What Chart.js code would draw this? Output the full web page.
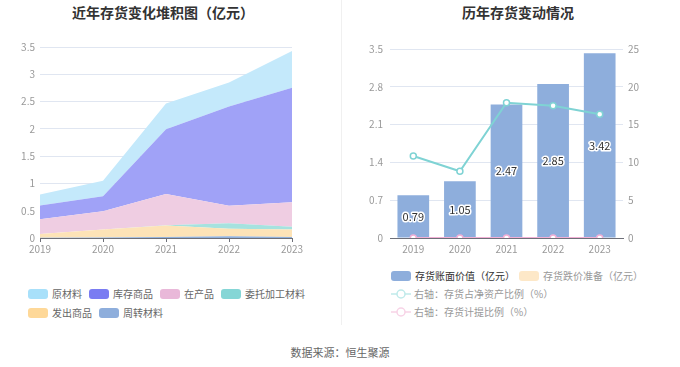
<!DOCTYPE html>
<html>
<head>
<meta charset="utf-8">
<script src="https://cdn.jsdelivr.net/npm/chart.js@4.4.0/dist/chart.umd.min.js"></script>
<style>
  html,body{margin:0;padding:0;background:#fff;width:680px;height:367px;overflow:hidden;font-family:"Noto Sans CJK SC","Noto Sans",sans-serif;}
  .title{position:absolute;top:2px;font-size:14px;font-weight:bold;color:#333;white-space:nowrap;transform:translateX(-50%);line-height:20px;}
  .box{position:absolute;}
  .divider{position:absolute;left:341px;top:0;width:1px;height:325px;background:#f0f0f0;}
  .lg{position:absolute;font-size:10px;line-height:12px;white-space:nowrap;}
  .lg .sw{position:absolute;left:0;top:1px;width:20px;height:10px;border-radius:3px;}
  .lg span.t{position:absolute;top:0;}
  .foot{position:absolute;left:340px;top:344px;transform:translateX(-50%);font-size:11px;color:#666;white-space:nowrap;}
</style>
</head>
<body>
<div class="title" style="left:163px">近年存货变化堆积图（亿元）</div>
<div class="title" style="left:518px">历年存货变动情况</div>
<div class="divider"></div>
<div class="box" style="left:0;top:36px;width:340px;height:224px"><canvas id="c1"></canvas></div>
<div class="box" style="left:341px;top:36px;width:339px;height:224px"><canvas id="c2"></canvas></div>
<div id="legend1"></div>
<div id="legend2"></div>
<div class="foot">数据来源：恒生聚源</div>
<script>
// ---- data ----
const years = ['2019','2020','2021','2022','2023'];
const rawMaterials = [0.20, 0.285, 0.47, 0.44, 0.67];      // 原材料
const finishedGoods = [0.25, 0.275, 1.19, 1.82, 2.10];     // 库存商品
const wip = [0.27, 0.335, 0.57, 0.32, 0.45];               // 在产品
const consigned = [0, 0, 0.005, 0.10, 0.05];               // 委托加工材料
const shipped = [0.07, 0.145, 0.21, 0.14, 0.135];          // 发出商品
const turnover = [0.005, 0.01, 0.02, 0.03, 0.02];          // 周转材料

const bookValue = [0.79, 1.05, 2.47, 2.85, 3.42];          // 存货账面价值（亿元）
const impairment = [0, 0, 0, 0, 0];                        // 存货跌价准备（亿元）
const ratioNetAssets = [10.85, 8.82, 17.9, 17.5, 16.36];   // 存货占净资产比例（%）
const ratioProvision = [0, 0, 0, 0, 0];                    // 存货计提比例（%）

const leftTicks = [0, 0.5, 1, 1.5, 2, 2.5, 3, 3.5];
const rightLeftTicks = [0, 0.7, 1.4, 2.1, 2.8, 3.5];
const rightRightTicks = [0, 5, 10, 15, 20, 25];

// ---- styles ----
const FONT = '"Noto Sans CJK SC","Noto Sans",sans-serif';
const tickFont = {family: FONT, size: 10};
const tickColor = '#999';
const gridColor = '#E0E6F1';
const axisColor = '#6E7079';

const stackSeries = [
  {label:'周转材料', data:turnover, fill:'#8fb0dc', legend:'#8eaedc'},
  {label:'发出商品', data:shipped, fill:'#fde3b7', legend:'#fed898'},
  {label:'委托加工材料', data:consigned, fill:'#a6e2df', legend:'#85d6d6'},
  {label:'在产品', data:wip, fill:'#efcde2', legend:'#e9b8d9'},
  {label:'库存商品', data:finishedGoods, fill:'#a0a2f7', legend:'#7a7cf2'},
  {label:'原材料', data:rawMaterials, fill:'#c4e9fb', legend:'#a8e0fa'}
];

new Chart(document.getElementById('c1'), {
  type: 'line',
  data: {
    labels: years,
    datasets: stackSeries.map((s, i) => ({
      label: s.label,
      data: s.data,
      backgroundColor: s.fill,
      borderColor: s.fill,
      borderWidth: 0,
      pointRadius: 0,
      fill: i === 0 ? 'origin' : '-1',
      tension: 0
    }))
  },
  options: {
    responsive: true, maintainAspectRatio: false, animation: false,
    layout: {padding: {left: 0, right: 48, top: 0, bottom: 0}},
    plugins: {legend: {display: false}, tooltip: {enabled: false}},
    scales: {
      x: {
        offset: false,
        grid: {drawOnChartArea: false, drawTicks: true, tickLength: 4, tickColor: axisColor},
        border: {color: axisColor},
        ticks: {font: tickFont, color: tickColor, padding: 1, maxRotation: 0, autoSkip: false},
        afterFit: s => { s.height = 22; }
      },
      y: {
        stacked: true, min: 0, max: 3.5,
        afterBuildTicks: s => { s.ticks = leftTicks.map(v => ({value: v})); },
        grid: {color: gridColor, drawTicks: false},
        border: {display: false},
        ticks: {font: tickFont, color: tickColor, padding: 5, callback: v => String(v)},
        afterFit: s => { s.width = 40; }
      }
    }
  }
});

const barLabelPlugin = {
  id: 'barLabels',
  afterDatasetsDraw(chart) {
    const ctx = chart.ctx;
    const meta = chart.getDatasetMeta(2);
    ctx.save();
    ctx.font = '11px ' + FONT;
    ctx.textAlign = 'center';
    ctx.textBaseline = 'middle';
    ctx.lineJoin = 'round';
    meta.data.forEach((el, i) => {
      const y = (el.y + el.base) / 2;
      const txt = bookValue[i].toFixed(2);
      ctx.lineWidth = 3;
      ctx.strokeStyle = '#fff';
      ctx.strokeText(txt, el.x, y);
      ctx.fillStyle = '#333';
      ctx.fillText(txt, el.x, y);
    });
    ctx.restore();
  }
};

new Chart(document.getElementById('c2'), {
  type: 'bar',
  data: {
    labels: years,
    datasets: [
      {type:'line', label:'右轴：存货占净资产比例（%）', data: ratioNetAssets, yAxisID:'y1', borderColor:'#7fd3d4', backgroundColor:'#fff', borderWidth:2, pointRadius:3, pointBorderWidth:1.5, pointBackgroundColor:'#fff', pointBorderColor:'#7fd3d4', tension:0, order:0},
      {type:'line', label:'右轴：存货计提比例（%）', data: ratioProvision, yAxisID:'y1', borderColor:'#f2b0d6', backgroundColor:'#fff', borderWidth:2, pointRadius:3, pointBorderWidth:1.5, pointBackgroundColor:'#fff', pointBorderColor:'#f2b0d6', tension:0, order:0},
      {label:'存货账面价值（亿元）', data: bookValue, yAxisID:'y', backgroundColor:'#8eaedc', grouped:false, barPercentage:0.68, categoryPercentage:1, order:2},
      {label:'存货跌价准备（亿元）', data: impairment, yAxisID:'y', backgroundColor:'#fde4bd', grouped:false, barPercentage:0.68, categoryPercentage:1, order:1}
    ]
  },
  options: {
    responsive: true, maintainAspectRatio: false, animation: false,
    layout: {padding: {left: 0, right: 0, top: 0, bottom: 0}},
    plugins: {legend: {display: false}, tooltip: {enabled: false}},
    scales: {
      x: {
        grid: {display: false, drawTicks: false},
        border: {color: axisColor},
        ticks: {font: tickFont, color: tickColor, padding: 5, maxRotation: 0, autoSkip: false},
        afterFit: s => { s.height = 22; }
      },
      y: {
        position: 'left', min: 0, max: 3.5,
        afterBuildTicks: s => { s.ticks = rightLeftTicks.map(v => ({value: v})); },
        grid: {color: gridColor, drawTicks: false},
        border: {display: false},
        ticks: {font: tickFont, color: tickColor, padding: 7, callback: v => String(Number(v.toFixed(1)))},
        afterFit: s => { s.width = 49; }
      },
      y1: {
        position: 'right', min: 0, max: 25,
        afterBuildTicks: s => { s.ticks = rightRightTicks.map(v => ({value: v})); },
        grid: {display: false, drawTicks: false},
        border: {display: false},
        ticks: {font: tickFont, color: tickColor, padding: 5},
        afterFit: s => { s.width = 57; }
      }
    }
  },
  plugins: [barLabelPlugin]
});

// ---- HTML legends ----
function addBox(parent, x, y, color, text, textColor, tx) {
  const d = document.createElement('div');
  d.className = 'lg';
  d.style.left = x + 'px'; d.style.top = (y - 6) + 'px';
  d.innerHTML = '<div class="sw" style="background:' + color + '"></div><span class="t" style="left:' + tx + 'px;color:' + textColor + '">' + text + '</span>';
  parent.appendChild(d);
}
function addLineIcon(parent, x, y, color, text, textColor) {
  const d = document.createElement('div');
  d.className = 'lg';
  d.style.left = x + 'px'; d.style.top = (y - 6) + 'px';
  d.innerHTML = '<svg width="20" height="12" style="position:absolute;left:0;top:0"><line x1="0" y1="6" x2="20" y2="6" stroke="' + color + '" stroke-width="1.5"/><circle cx="10" cy="6" r="4" fill="#fff" stroke="' + color + '" stroke-width="1.5"/></svg><span class="t" style="left:23px;color:' + textColor + '">' + text + '</span>';
  parent.appendChild(d);
}
const L1 = document.getElementById('legend1');
const legendPos = {
  '原材料':[28,294], '库存商品':[89,294], '在产品':[160,294], '委托加工材料':[221,294],
  '发出商品':[28,313], '周转材料':[99,313]
};
['原材料','库存商品','在产品','委托加工材料','发出商品','周转材料'].forEach(name => {
  const s = stackSeries.find(q => q.label === name);
  const p = legendPos[name];
  addBox(L1, p[0], p[1], s.legend, name, '#666', 24);
});
const L2 = document.getElementById('legend2');
addBox(L2, 391, 276, '#8eaedc', '存货账面价值（亿元）', '#333', 24);
addBox(L2, 519, 276, '#fde8c8', '存货跌价准备（亿元）', '#999', 24);
addLineIcon(L2, 391, 294, '#bfeaea', '右轴：存货占净资产比例（%）', '#999');
addLineIcon(L2, 391, 312, '#f7d3e6', '右轴：存货计提比例（%）', '#999');
</script>
</body>
</html>
